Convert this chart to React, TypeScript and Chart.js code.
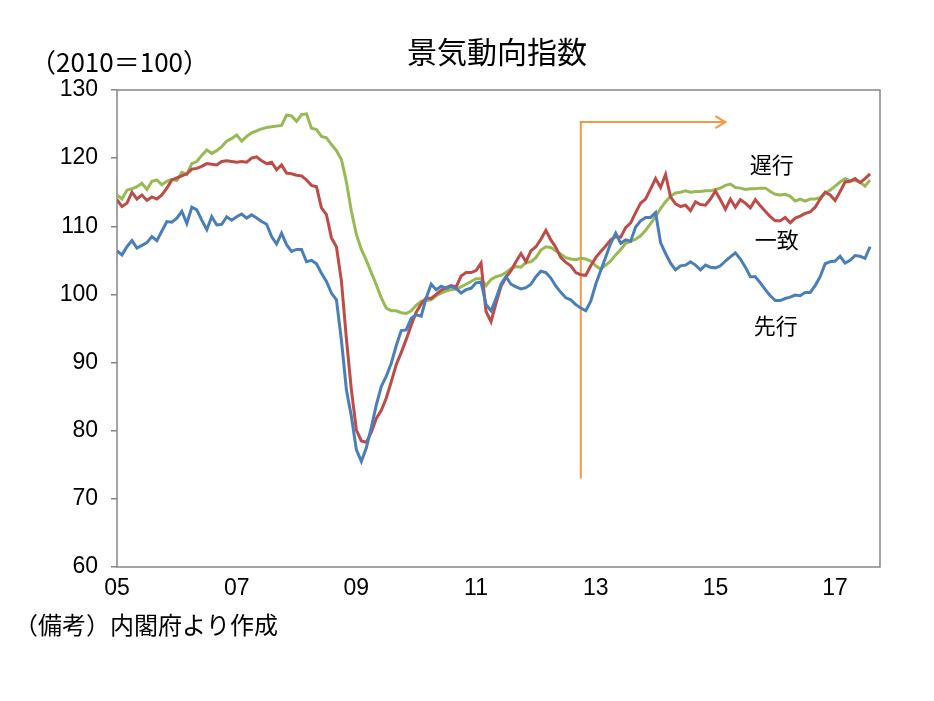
import React, { useEffect, useRef } from "react";
import { Chart, registerables } from "chart.js";

Chart.register(...registerables);

// Monthly index values, Jan 2005 – Aug 2017 (2010 = 100)
const leading = [
  106.4, 105.8, 107.0, 107.9, 106.8, 107.2, 107.6, 108.5, 107.9, 109.3,
  110.7, 110.6, 111.2, 112.2, 110.4, 112.8, 112.4, 110.9, 109.5, 111.4,
  110.2, 110.3, 111.4, 110.9, 111.4, 111.8, 111.2, 111.7, 111.2, 110.7,
  110.3, 108.5, 107.4, 109.0, 107.3, 106.3, 106.6, 106.6, 104.8, 105.0,
  104.5, 103.1, 101.9, 100.2, 99.2, 93.3, 86.0, 82.1, 77.2, 75.5,
  77.5, 80.5, 83.8, 86.5, 88.0, 89.9, 92.5, 94.7, 94.8, 96.5,
  97.0, 96.8, 99.5, 101.5, 100.7, 101.2, 100.9, 101.2, 100.9, 100.2,
  100.7, 100.9, 101.7, 101.8, 98.5, 97.6, 99.4, 101.5, 102.6, 101.5,
  101.1, 100.8, 101.0, 101.5, 102.6, 103.4, 103.2, 102.4, 101.2, 100.3,
  99.5, 99.2, 98.5, 98.0, 97.6, 99.0, 101.5, 103.5, 105.5, 107.5,
  109.0, 107.5, 108.0, 107.8, 109.9, 110.8, 111.3, 111.3, 112.0, 107.6,
  106.0, 104.6, 103.6, 104.2, 104.3, 104.8, 104.3, 103.6, 104.3, 104.0,
  103.9, 104.2, 104.9, 105.5, 106.1, 105.2, 104.0, 102.6, 102.6, 101.7,
  100.7, 99.8, 99.1, 99.1, 99.4, 99.6, 99.9, 99.8, 100.3, 100.3,
  101.3, 102.6, 104.5, 104.8, 104.9, 105.6, 104.6, 105.0, 105.7, 105.6,
  105.3, 107.0,
];

const coincident = [
  113.9, 112.9, 113.4, 115.0, 114.0, 114.6, 113.8, 114.3, 114.0, 114.6,
  115.6, 116.8, 117.1, 117.4, 117.7, 118.4, 118.5, 118.8, 119.2, 119.1,
  119.0, 119.5, 119.6, 119.5, 119.4, 119.5, 119.4, 120.0, 120.2, 119.6,
  119.2, 119.4, 118.3, 119.0, 117.8, 117.7, 117.5, 117.4, 116.8, 116.0,
  115.8, 112.7, 111.7, 108.3, 107.0, 102.0, 93.5, 86.0, 80.1, 78.5,
  78.3, 79.8, 81.8, 83.0, 84.8, 87.2, 89.7, 91.5, 93.4, 95.5,
  97.4, 98.6, 99.5, 99.4, 100.0, 100.6, 101.0, 101.3, 101.1, 102.7,
  103.2, 103.2, 103.5, 104.6, 97.5, 96.0, 98.7, 101.2, 102.5, 103.5,
  104.8, 106.0, 104.8, 106.4, 107.0, 108.1, 109.4, 108.0, 106.9, 105.4,
  104.7, 104.2, 103.2, 102.9, 102.8, 104.2, 105.4, 106.3, 107.1, 108.0,
  108.5, 108.4, 109.8, 110.5, 112.0, 113.4, 114.0, 115.5, 117.0, 115.7,
  117.6, 114.3, 113.3, 112.9, 113.1, 112.3, 113.6, 113.2, 113.1, 114.0,
  115.2, 113.9, 112.5, 114.0, 112.8, 113.9, 113.4, 112.7, 113.9, 113.0,
  112.2, 111.4, 110.8, 110.8, 111.3, 110.5, 111.2, 111.5, 111.9, 112.1,
  112.8, 114.0, 115.0, 114.6, 113.8, 115.1, 116.5, 116.6, 117.0, 116.4,
  117.0, 117.7,
];

const lagging = [
  114.6, 114.0, 115.3, 115.5, 115.8, 116.3, 115.4, 116.6, 116.8, 116.1,
  116.6, 116.9, 116.7, 117.9, 117.6, 119.2, 119.5, 120.4, 121.2, 120.7,
  121.1, 121.7, 122.5, 122.9, 123.4, 122.5, 123.2, 123.7, 124.0, 124.3,
  124.5, 124.6, 124.7, 124.8, 126.3, 126.2, 125.4, 126.4, 126.5, 124.4,
  124.2, 123.2, 123.0, 122.0, 121.1, 119.8, 116.5, 112.2, 108.8, 106.6,
  105.0, 103.2, 101.4, 99.5, 98.0, 97.6, 97.6, 97.3, 97.2, 97.6,
  98.4, 99.0, 99.1, 99.2, 99.8, 100.2, 100.5, 100.7, 100.8, 101.1,
  101.5, 101.9, 102.3, 102.3, 101.3, 102.2, 102.6, 102.8, 103.2, 103.8,
  104.1, 104.0, 104.7, 104.8, 105.4, 106.5, 107.0, 106.9, 106.4, 105.9,
  105.4, 105.2, 105.1, 105.3, 105.2, 104.9, 104.2, 103.7, 104.3, 104.9,
  105.8, 106.6, 107.5, 107.8, 108.1, 108.6, 109.4, 110.4, 111.4, 112.6,
  113.6, 114.4, 114.9, 115.0, 115.2, 115.0, 115.1, 115.1, 115.2, 115.2,
  115.4, 115.6, 116.0, 116.2, 115.7, 115.6, 115.4, 115.5, 115.5, 115.6,
  115.6, 115.1, 114.7, 114.6, 114.7, 114.4, 113.7, 114.0, 113.7, 114.0,
  114.0, 114.2, 114.9, 115.3, 115.9, 116.5, 117.0, 116.7, 116.7, 116.5,
  115.9, 116.8,
];

// x tick positions (month index from Jan 2005) and labels
const xTickPositions = [0, 24, 48, 72, 96, 120, 144];
const xTickLabels = ["05", "07", "09", "11", "13", "15", "17"];

// Orange arrow (month index, index value)
const arrowX = [93, 93, 122];
const arrowY = [73, 125.3, 125.3];

// Series name labels placed inside the plot (month index, index value)
const seriesNames = ["先行", "一致", "遅行"];
const nameX = [132.1, 132.3, 131.3];
const nameY = [95.4, 108.0, 119.0];

const titleText = "景気動向指数";
const unitText = "（2010＝100）";
const noteText = "（備考）内閣府より作成";

const BLUE = "#4A7EBB";
const RED = "#BE4B48";
const GREEN = "#98B954";
const ORANGE = "#F79646";
const AXIS = "#868686";

const toPoints = (arr: number[]) => arr.map((v, i) => ({ x: i, y: v }));

const overlay = {
  id: "overlay",
  beforeDatasetsDraw(chart: any) {
    const { ctx, chartArea } = chart;
    ctx.save();
    ctx.strokeStyle = AXIS;
    ctx.lineWidth = 1.5;
    ctx.strokeRect(
      chartArea.left,
      chartArea.top,
      chartArea.right - chartArea.left,
      chartArea.bottom - chartArea.top
    );
    ctx.restore();
  },
  afterDatasetsDraw(chart: any) {
    const { ctx, scales } = chart;
    const x = scales.x;
    const y = scales.y;
    ctx.save();
    // arrow head
    const ex = x.getPixelForValue(arrowX[2]);
    const ey = y.getPixelForValue(arrowY[2]);
    ctx.strokeStyle = ORANGE;
    ctx.lineWidth = 2;
    ctx.beginPath();
    ctx.moveTo(ex - 10, ey - 6);
    ctx.lineTo(ex, ey);
    ctx.lineTo(ex - 10, ey + 6);
    ctx.stroke();
    // series names
    ctx.fillStyle = "#000";
    ctx.font = "22px 'Noto Sans CJK JP'";
    ctx.textAlign = "center";
    ctx.textBaseline = "middle";
    seriesNames.forEach((n, i) => {
      ctx.fillText(n, x.getPixelForValue(nameX[i]), y.getPixelForValue(nameY[i]));
    });
    ctx.restore();
  },
  afterDraw(chart: any) {
    const { ctx } = chart;
    ctx.save();
    ctx.fillStyle = "#000";
    ctx.textBaseline = "middle";
    ctx.textAlign = "center";
    ctx.font = "30px 'Noto Sans CJK JP'";
    ctx.fillText(titleText, 497, 52);
    ctx.font = "26px 'Noto Sans CJK JP'";
    ctx.textAlign = "left";
    ctx.fillText(unitText, 30, 62);
    ctx.font = "24px 'Noto Sans CJK JP'";
    ctx.fillText(noteText, 14, 625);
    ctx.restore();
  },
};

export default function App() {
  const ref = useRef<HTMLCanvasElement | null>(null);

  useEffect(() => {
    if (!ref.current) return;
    const tickFont = { family: "'Liberation Sans', sans-serif", size: 23 };
    const chart = new Chart(ref.current, {
      type: "line",
      data: {
        datasets: [
          { label: "先行", data: toPoints(leading), borderColor: BLUE, borderWidth: 3, pointRadius: 0, tension: 0 },
          { label: "一致", data: toPoints(coincident), borderColor: RED, borderWidth: 3, pointRadius: 0, tension: 0 },
          { label: "遅行", data: toPoints(lagging), borderColor: GREEN, borderWidth: 3, pointRadius: 0, tension: 0 },
          {
            label: "arrow",
            data: arrowX.map((v, i) => ({ x: v, y: arrowY[i] })),
            borderColor: ORANGE,
            borderWidth: 2,
            pointRadius: 0,
            tension: 0,
          },
        ],
      },
      options: {
        responsive: false,
        animation: false,
        devicePixelRatio: 1,
        layout: { padding: { left: 0, right: 54, top: 90, bottom: 0 } },
        plugins: {
          legend: { display: false },
          tooltip: { enabled: false },
          title: { display: false },
        },
        scales: {
          x: {
            type: "linear",
            min: 0,
            max: 153,
            border: { display: false },
            grid: { display: true, drawOnChartArea: false, drawTicks: false },
            afterBuildTicks: (scale: any) => {
              scale.ticks = xTickPositions.map((v) => ({ value: v }));
            },
            afterFit: (scale: any) => {
              scale.height = 134;
            },
            ticks: {
              autoSkip: false,
              maxRotation: 0,
              padding: 8,
              color: "#000",
              font: tickFont,
              callback: (v: any) => {
                const k = xTickPositions.indexOf(Number(v));
                return k >= 0 ? xTickLabels[k] : "";
              },
            },
          },
          y: {
            min: 60,
            max: 130,
            border: { display: false },
            grid: { drawOnChartArea: false, drawTicks: true, tickLength: 6, color: AXIS, lineWidth: 1.5 },
            afterFit: (scale: any) => {
              scale.width = 117;
            },
            ticks: { stepSize: 10, padding: 13, color: "#000", font: tickFont },
          },
        },
      },
      plugins: [overlay],
    } as any);
    return () => chart.destroy();
  }, []);

  return (
    <div style={{ position: "absolute", left: 0, top: 0, width: 934, height: 701, background: "#fff" }}>
      <canvas ref={ref} width={934} height={701} style={{ display: "block" }} />
    </div>
  );
}
